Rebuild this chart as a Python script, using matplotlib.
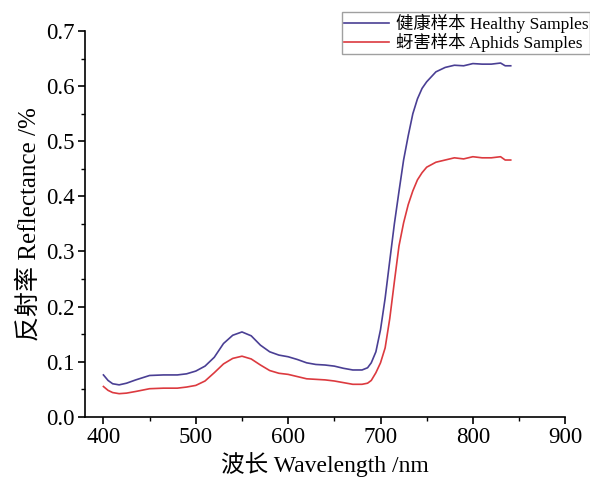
"""
Reflectance spectra of healthy vs aphid-infested samples.
Writes: out.png
"""

import matplotlib
matplotlib.use("Agg")
import matplotlib.pyplot as plt
import matplotlib.ticker as mticker

plt.rcParams["font.family"] = ["Liberation Serif", "Noto Sans CJK SC"]
plt.rcParams["axes.unicode_minus"] = False

# ---------------------------------------------------------------------------
# Data
# ---------------------------------------------------------------------------
wavelength = [400, 405, 410, 417, 425, 435, 450, 465, 480, 490, 500, 510, 520,
              530, 540, 550, 560, 570, 580, 590, 600, 610, 620, 630, 640, 650,
              660, 670, 680, 686, 690, 695, 700, 705, 710, 715, 720, 725, 730,
              735, 740, 745, 750, 760, 770, 780, 790, 800, 810, 820, 830, 835,
              841]

healthy = [0.076, 0.066, 0.060, 0.058, 0.061, 0.067, 0.075, 0.076, 0.076,
           0.078, 0.083, 0.092, 0.108, 0.133, 0.148, 0.154, 0.147, 0.130,
           0.118, 0.112, 0.109, 0.104, 0.098, 0.095, 0.094, 0.092, 0.088,
           0.085, 0.085, 0.089, 0.098, 0.118, 0.158, 0.215, 0.283, 0.350,
           0.409, 0.466, 0.510, 0.550, 0.577, 0.596, 0.608, 0.626, 0.634,
           0.638, 0.637, 0.641, 0.640, 0.640, 0.642, 0.637, 0.637]

aphids = [0.055, 0.048, 0.044, 0.042, 0.043, 0.046, 0.051, 0.052, 0.052,
          0.054, 0.057, 0.065, 0.080, 0.096, 0.106, 0.110, 0.105, 0.094,
          0.084, 0.079, 0.077, 0.073, 0.069, 0.068, 0.067, 0.065, 0.062,
          0.059, 0.059, 0.061, 0.066, 0.080, 0.098, 0.125, 0.178, 0.245,
          0.310, 0.352, 0.385, 0.410, 0.430, 0.443, 0.453, 0.462, 0.466,
          0.470, 0.468, 0.472, 0.470, 0.470, 0.472, 0.466, 0.466]

labels = ["健康样本 Healthy Samples", "蚜害样本 Aphids Samples"]

# ---------------------------------------------------------------------------
# Figure
# ---------------------------------------------------------------------------
fig = plt.figure(figsize=(5.9, 4.78), dpi=100)
ax = fig.add_axes([0.144, 0.128, 0.814, 0.807])

ax.plot(wavelength, healthy, color="#4a3f94", linewidth=1.2, label=labels[0])
ax.plot(wavelength, aphids, color="#dc3a3f", linewidth=1.2, label=labels[1])

ax.set_xlim(380, 900)
ax.set_ylim(0.0, 0.7)
ax.xaxis.set_major_locator(mticker.MultipleLocator(100))
ax.xaxis.set_minor_locator(mticker.MultipleLocator(50))
ax.yaxis.set_major_locator(mticker.MultipleLocator(0.1))
ax.yaxis.set_minor_locator(mticker.MultipleLocator(0.05))
ax.yaxis.set_major_formatter(mticker.FormatStrFormatter("%.1f"))

for side in ("top", "right"):
    ax.spines[side].set_visible(False)
for side in ("left", "bottom"):
    ax.spines[side].set_linewidth(1.2)

ax.tick_params(which="major", direction="out", length=5, width=1.2,
               labelsize=16.5, colors="black", pad=2.5)
ax.tick_params(which="minor", direction="out", length=3, width=1.0)

ax.set_xlabel("波长 Wavelength /nm", fontsize=17, labelpad=3)
ax.set_ylabel("反射率 Reflectance /%", fontsize=18, labelpad=4)

leg = ax.legend(loc="upper right", bbox_to_anchor=(1.0, 1 - 12 / 478),
                bbox_transform=fig.transFigure, fontsize=12.5,
                frameon=True, fancybox=False, borderpad=0.1,
                labelspacing=0.0, handlelength=2.6, handletextpad=0.4,
                borderaxespad=0)
leg.get_frame().set_edgecolor("#888888")
leg.get_frame().set_linewidth(1.0)

fig.savefig("out.png", dpi=100)
plt.close(fig)
